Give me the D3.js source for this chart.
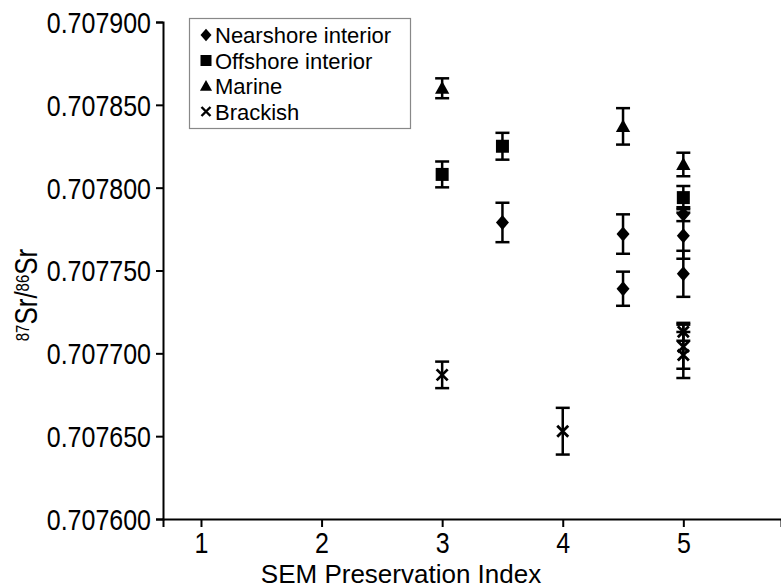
<!DOCTYPE html>
<html>
<head>
<meta charset="utf-8">
<script src="https://cdn.jsdelivr.net/npm/d3@7"></script>
<style>
  body { margin: 0; background: #fff; }
  svg { display: block; font-family: "Liberation Sans", Arial, sans-serif; }
</style>
</head>
<body>
<div id="chart"></div>
<script>
// values
var seriesNames = ['Nearshore interior', 'Offshore interior', 'Marine', 'Brackish'];

var nearshoreX = [3.5, 4.5, 4.5, 5, 5, 5];
var nearshoreY = [0.707779, 0.707772, 0.707739, 0.707784, 0.707771, 0.707748];
var nearshoreErr = [0.0000119, 0.0000119, 0.0000103, 0.0000042, 0.0000139, 0.0000139];

var offshoreX = [3, 3.5, 5];
var offshoreY = [0.707808, 0.707825, 0.707794];
var offshoreErr = [0.0000078, 0.0000081, 0.000007];

var marineX = [3, 4.5, 5];
var marineY = [0.707860, 0.707837, 0.707814];
var marineErr = [0.000006, 0.000011, 0.0000071];

var brackishX = [3, 4, 5, 5, 5];
var brackishY = [0.707687, 0.707653, 0.707713, 0.707704, 0.707699];
var brackishErr = [0.000008, 0.0000141, 0.0000054, 0.0000133, 0.0000139];

var xTicks = [1, 2, 3, 4, 5];
var yTicks = [0.7076, 0.70765, 0.7077, 0.70775, 0.7078, 0.70785, 0.7079];

var width = 781, height = 587;
var svg = d3.select('#chart').append('svg').attr('width', width).attr('height', height);

var x = d3.scaleLinear().domain([0.685, 5.81]).range([163, 781]);
var y = d3.scaleLinear().domain([0.7076, 0.7079]).range([519, 22]);

// axes
var yAxis = svg.append('g').attr('transform', 'translate(163,0)')
  .call(d3.axisLeft(y).tickValues(yTicks).tickFormat(d3.format('.6f')).tickSizeOuter(0).tickSize(7));
var xAxis = svg.append('g').attr('transform', 'translate(0,519)')
  .call(d3.axisBottom(x).tickValues(xTicks).tickFormat(d3.format('d')).tickSizeOuter(0).tickSize(8));

[yAxis, xAxis].forEach(function(a) {
  a.select('.domain').attr('stroke', '#000').attr('stroke-width', 2);
  a.selectAll('.tick line').attr('stroke', '#000').attr('stroke-width', 2);
  a.selectAll('.tick text').attr('fill', '#000').style('font-size', '25px')
    .style('font-family', '"Liberation Sans", Arial, sans-serif')
    .attr('transform', 'scale(1,1.15)');
});
yAxis.selectAll('.tick text').attr('x', -12).attr('dy', '0.36em');
xAxis.selectAll('.tick text').attr('y', 12).attr('dy', '0.71em');

// axis titles
svg.append('text')
  .attr('x', 401).attr('y', 583)
  .attr('text-anchor', 'middle')
  .style('font-size', '26px')
  .text('SEM Preservation Index');

var yt = svg.append('text')
  .attr('transform', 'translate(37,295) rotate(-90) scale(1,1.2)')
  .attr('text-anchor', 'middle')
  .style('font-size', '26px');
yt.append('tspan').attr('baseline-shift', '40%').style('font-size', '15px').text('87');
yt.append('tspan').text('Sr/');
yt.append('tspan').attr('baseline-shift', '40%').style('font-size', '15px').text('86');
yt.append('tspan').text('Sr');

// marker shapes
function markerPath(kind, s) {
  if (kind === 0) return 'M0,' + (-s * 1.15) + 'L' + s + ',0L0,' + (s * 1.15) + 'L' + (-s) + ',0Z';
  if (kind === 1) return 'M' + (-s) + ',' + (-s) + 'H' + s + 'V' + s + 'H' + (-s) + 'Z';
  if (kind === 2) return 'M0,' + (-s * 1.1) + 'L' + (s * 1.1) + ',' + (s * 0.85) + 'H' + (-s * 1.1) + 'Z';
  return 'M' + (-s) + ',' + (-s) + 'L' + s + ',' + s + 'M' + s + ',' + (-s) + 'L' + (-s) + ',' + s;
}

function drawSeries(xs, ys, errs, kind) {
  var data = xs.map(function(d, i) { return { x: d, y: ys[i], e: errs[i] }; });
  var g = svg.append('g');
  var bars = g.selectAll('g.err').data(data).enter().append('g')
    .attr('stroke', '#000').attr('stroke-width', 2.5);
  bars.append('line')
    .attr('x1', function(d) { return x(d.x); }).attr('x2', function(d) { return x(d.x); })
    .attr('y1', function(d) { return y(d.y + d.e); }).attr('y2', function(d) { return y(d.y - d.e); });
  bars.append('line')
    .attr('x1', function(d) { return x(d.x) - 7; }).attr('x2', function(d) { return x(d.x) + 7; })
    .attr('y1', function(d) { return y(d.y + d.e); }).attr('y2', function(d) { return y(d.y + d.e); });
  bars.append('line')
    .attr('x1', function(d) { return x(d.x) - 7; }).attr('x2', function(d) { return x(d.x) + 7; })
    .attr('y1', function(d) { return y(d.y - d.e); }).attr('y2', function(d) { return y(d.y - d.e); });
  g.selectAll('path').data(data).enter().append('path')
    .attr('transform', function(d) { return 'translate(' + x(d.x) + ',' + y(d.y) + ')'; })
    .attr('d', markerPath(kind, kind === 3 ? 5.5 : 6.5))
    .attr('fill', kind === 3 ? 'none' : '#000')
    .attr('stroke', '#000')
    .attr('stroke-width', kind === 3 ? 2.8 : 0);
}

drawSeries(nearshoreX, nearshoreY, nearshoreErr, 0);
drawSeries(offshoreX, offshoreY, offshoreErr, 1);
drawSeries(marineX, marineY, marineErr, 2);
drawSeries(brackishX, brackishY, brackishErr, 3);

// legend
var legend = svg.append('g');
legend.append('rect')
  .attr('x', 189.5).attr('y', 18.5).attr('width', 221).attr('height', 110)
  .attr('fill', '#fff').attr('stroke', '#888').attr('stroke-width', 1.2);
seriesNames.forEach(function(name, i) {
  var cy = 35 + i * 25.5;
  legend.append('path')
    .attr('transform', 'translate(206,' + cy + ')')
    .attr('d', markerPath(i, i === 3 ? 4.5 : 5.5))
    .attr('fill', i === 3 ? 'none' : '#000')
    .attr('stroke', '#000')
    .attr('stroke-width', i === 3 ? 2.4 : 0);
  legend.append('text')
    .attr('x', 215).attr('y', cy + 8)
    .style('font-size', '22px')
    .text(name);
});
</script>
</body>
</html>
